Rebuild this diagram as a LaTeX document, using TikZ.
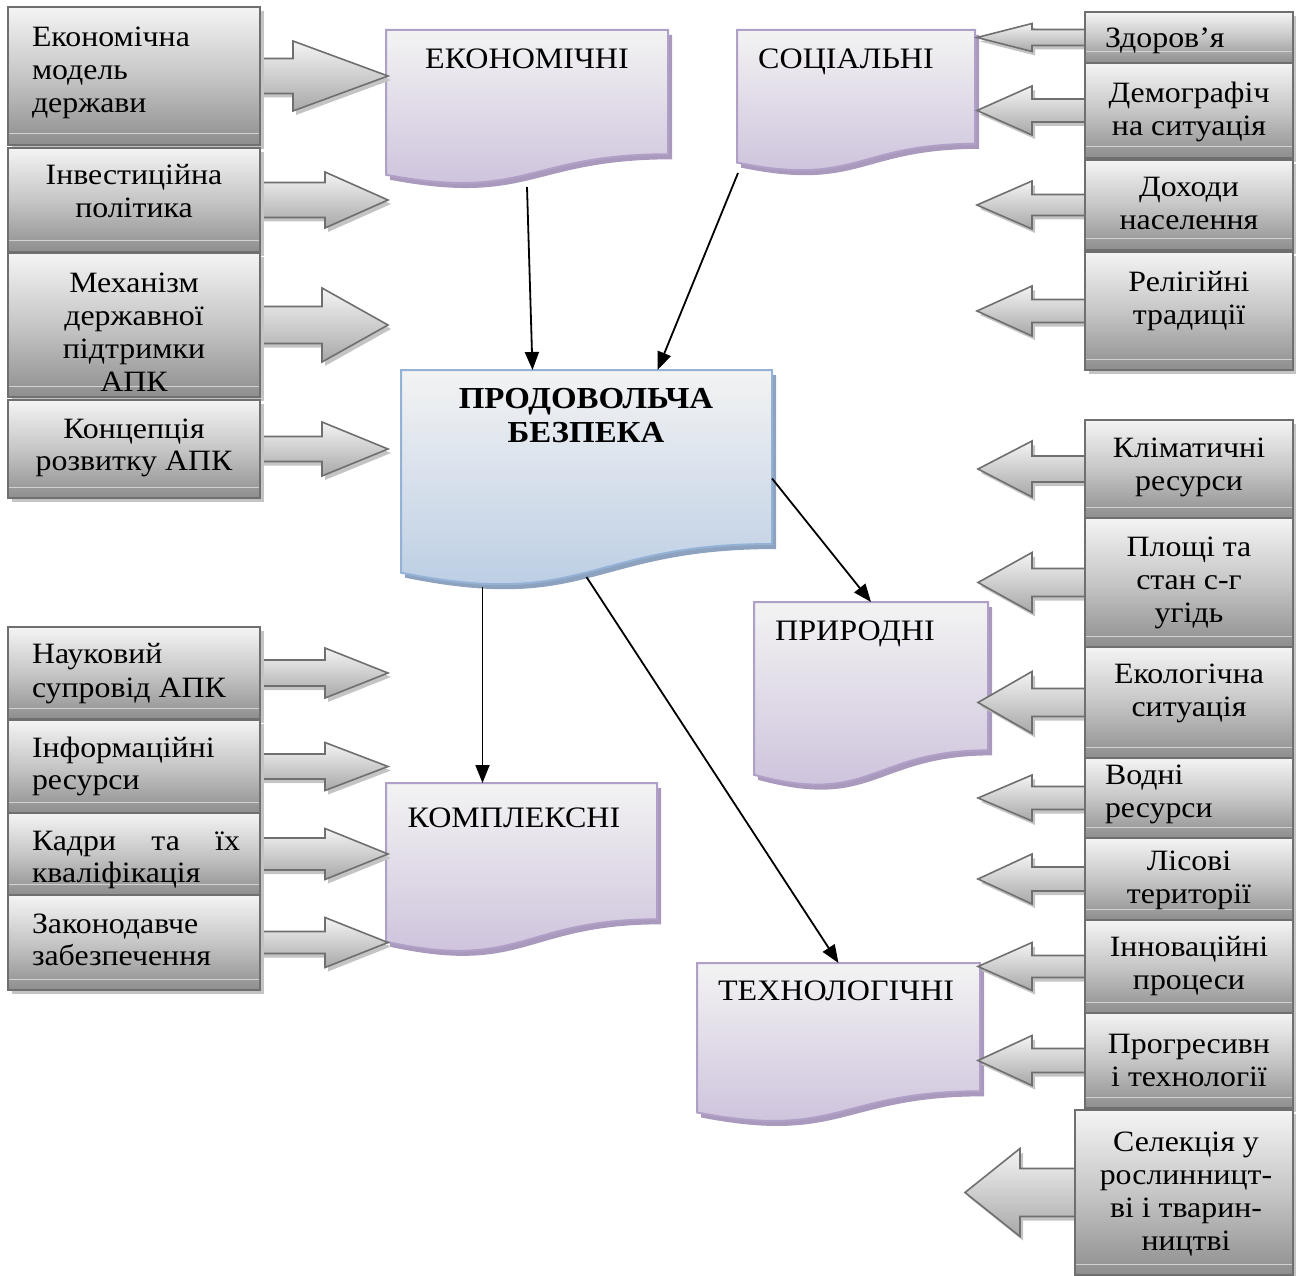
\documentclass[tikz,border=0pt]{standalone}
\usepackage{fontspec}
\setmainfont{Liberation Serif}[FakeStretch=1.08]
\usetikzlibrary{calc,arrows.meta,shadows}

\definecolor{gbord}{HTML}{6F6F6F}
\definecolor{gtop}{HTML}{F4F4F4}
\definecolor{gmid}{HTML}{C6C6C6}
\definecolor{gbot}{HTML}{8E8E8E}
\definecolor{gshad}{HTML}{C4C4C4}
\definecolor{gstripe}{HTML}{D2D2D2}
\definecolor{atop}{HTML}{F4F4F4}
\definecolor{abot}{HTML}{A8A8A8}
\definecolor{ptop}{HTML}{F3F3F3}
\definecolor{pbot}{HTML}{CABEDA}
\definecolor{pbord}{HTML}{B09FC6}
\definecolor{pshad}{HTML}{A999BC}
\definecolor{btop}{HTML}{F3F3F3}
\definecolor{bbot}{HTML}{B6CAE3}
\definecolor{bbord}{HTML}{94B2D6}
\definecolor{bshad}{HTML}{8DA2BE}

\newcommand{\docpath}[1]{(#1.north west) -- (#1.north east) -- ($(#1.north east)!0.802!(#1.south east)$) .. controls ($(#1.north)!0.802!(#1.south)$) and ($(#1.north)!1.1075!(#1.south)$) .. ($(#1.north west)!0.934!(#1.south west)$) -- cycle}
% right-pointing block arrow: box, tip x, shaft half, head half, head length
\newcommand{\arrR}[5]{let \p1=(#1.east) in (\x1-30pt,\y1+#3pt) -- (#2pt-#5pt,\y1+#3pt) -- (#2pt-#5pt,\y1+#4pt) -- (#2pt,\y1) -- (#2pt-#5pt,\y1-#4pt) -- (#2pt-#5pt,\y1-#3pt) -- (\x1-30pt,\y1-#3pt) -- cycle}
% left-pointing block arrow
\newcommand{\arrL}[5]{let \p1=(#1.west) in (\x1+30pt,\y1+#3pt) -- (#2pt+#5pt,\y1+#3pt) -- (#2pt+#5pt,\y1+#4pt) -- (#2pt,\y1) -- (#2pt+#5pt,\y1-#4pt) -- (#2pt+#5pt,\y1-#3pt) -- (\x1+30pt,\y1-#3pt) -- cycle}

\begin{document}
\begin{tikzpicture}[x=1pt,y=-1pt,
  frame/.style={rectangle, anchor=north west, inner sep=0pt, outer sep=0pt, draw=none},
  gbox/.style={rectangle, anchor=north west, inner sep=0pt, outer sep=0pt,
    draw=gbord, line width=2pt, top color=gtop, bottom color=gbot, middle color=gmid,
    drop shadow={shadow xshift=4pt, shadow yshift=-4pt, fill=gshad, opacity=1}},
  stripe/.style={draw=gstripe, line width=1pt},
  garrow/.style={draw=gbord, line width=1.6pt, top color=atop, bottom color=abot,
    drop shadow={shadow xshift=3pt, shadow yshift=-4pt, fill=gshad, opacity=1}},
  pdoc/.style={draw=pbord, line width=2pt, top color=ptop, bottom color=pbot,
    drop shadow={shadow xshift=4pt, shadow yshift=-5pt, fill=pshad, opacity=1}},
  bdoc/.style={draw=bbord, line width=2pt, top color=btop, bottom color=bbot,
    drop shadow={shadow xshift=4pt, shadow yshift=-5pt, fill=bshad, opacity=1}},
  conn/.style={line width=1.8pt, -{Triangle[length=18pt,width=14pt]}},
  txt/.style={inner sep=0pt, outer sep=0pt, font=\fontsize{29.5}{33}\selectfont},
  tl/.style={txt, align=left, anchor=base west},
  tc/.style={txt, align=center, anchor=base},
  dtxt/.style={inner sep=0pt, outer sep=0pt, anchor=base, align=center, font=\fontsize{29.7}{34}\selectfont},
]
\useasboundingbox (0,0) rectangle (1296,1276);

% ---------- document shapes ----------
\node[frame, minimum width=282, minimum height=155] (eco) at (386,30) {};
\node[frame, minimum width=238, minimum height=142] (soc) at (737,30) {};
\node[frame, minimum width=371, minimum height=217] (food) at (401,370) {};
\node[frame, minimum width=234, minimum height=185] (nat) at (754,602) {};
\node[frame, minimum width=271, minimum height=170] (comp) at (386,783) {};
\node[frame, minimum width=283, minimum height=160] (tech) at (697,963) {};

\draw[pdoc] \docpath{eco};
\draw[pdoc] \docpath{soc};
\draw[bdoc] \docpath{food};
\draw[pdoc] \docpath{nat};
\draw[pdoc] \docpath{comp};
\draw[pdoc] \docpath{tech};

\node[dtxt] (ecot) at (527,69) {ЕКОНОМІЧНІ};
\node[dtxt] (soct) at (846,69) {СОЦІАЛЬНІ};
\node[dtxt, font=\fontsize{30.5}{34}\selectfont\bfseries] (foodt) at (586,442) {ПРОДОВОЛЬЧА\\БЕЗПЕКА};
\node[dtxt] (natt) at (855,640) {ПРИРОДНІ};
\node[dtxt] (compt) at (514,827) {КОМПЛЕКСНІ};
\node[dtxt] (techt) at (836,1000) {ТЕХНОЛОГІЧНІ};

% ---------- connectors ----------
\draw[conn] ([yshift=-2pt]eco.south) -- ([xshift=-54pt]food.north);
\draw[conn] ([xshift=1pt,yshift=-1pt]soc.south west) -- ([xshift=71pt]food.north);
\draw[conn] (food.east) -- (nat.north);
\draw[conn] ([xshift=-104pt]food.south) -- ([xshift=-39pt]comp.north);
\draw[conn] ([yshift=10pt]food.south) -- (tech.north);

% ---------- gray boxes (frames first for arrows) ----------
\node[frame, minimum width=252, minimum height=138] (b1) at (8,7) {};
\node[frame, minimum width=252, minimum height=104] (b2) at (8,148) {};
\node[frame, minimum width=252, minimum height=144] (b3) at (8,253) {};
\node[frame, minimum width=252, minimum height=98]  (b4) at (8,400) {};
\node[frame, minimum width=252, minimum height=92]  (b5) at (8,627) {};
\node[frame, minimum width=252, minimum height=93]  (b6) at (8,720) {};
\node[frame, minimum width=252, minimum height=82]  (b7) at (8,813) {};
\node[frame, minimum width=252, minimum height=95]  (b8) at (8,895) {};

\node[frame, minimum width=208, minimum height=51]  (r1) at (1085,12) {};
\node[frame, minimum width=208, minimum height=95]  (r2) at (1085,63) {};
\node[frame, minimum width=208, minimum height=90]  (r3) at (1085,160) {};
\node[frame, minimum width=208, minimum height=118] (r4) at (1085,252) {};
\node[frame, minimum width=208, minimum height=98]  (r5) at (1085,420) {};
\node[frame, minimum width=208, minimum height=129] (r6) at (1085,518) {};
\node[frame, minimum width=208, minimum height=111] (r7) at (1085,647) {};
\node[frame, minimum width=208, minimum height=80]  (r8) at (1085,758) {};
\node[frame, minimum width=208, minimum height=82]  (r9) at (1085,838) {};
\node[frame, minimum width=208, minimum height=93]  (r10) at (1085,920) {};
\node[frame, minimum width=208, minimum height=95]  (r11) at (1085,1013) {};
\node[frame, minimum width=218, minimum height=165] (r12) at (1075,1110) {};

% ---------- block arrows ----------
\draw[garrow] \arrR{b1}{388}{17.5}{35}{95};
\draw[garrow] \arrR{b2}{388}{17.5}{28}{63};
\draw[garrow] \arrR{b3}{388}{18.5}{37}{66};
\draw[garrow] \arrR{b4}{388}{12.5}{27}{66};
\draw[garrow] \arrR{b5}{388}{13}{25}{63};
\draw[garrow] \arrR{b6}{388}{12.5}{24}{63};
\draw[garrow] \arrR{b7}{388}{16}{25.5}{63};
\draw[garrow] \arrR{b8}{388}{11}{25}{63};

\draw[garrow] \arrL{r1}{977}{8}{14}{55};
\draw[garrow] \arrL{r2}{977}{11.5}{24.5}{55};
\draw[garrow] \arrL{r3}{977}{10.5}{24}{55};
\draw[garrow] \arrL{r4}{977}{11.5}{25}{55};
\draw[garrow] \arrL{r5}{978}{13}{28}{54};
\draw[garrow] \arrL{r6}{978}{14}{30}{54};
\draw[garrow] \arrL{r7}{978}{14}{31}{54};
\draw[garrow] \arrL{r8}{978}{11.5}{23}{54};
\draw[garrow] \arrL{r9}{978}{12}{25}{54};
\draw[garrow] \arrL{r10}{978}{11}{24}{54};
\draw[garrow] \arrL{r11}{978}{12}{25}{54};
\draw[garrow] \arrL{r12}{965}{24}{44}{55};

% ---------- gray boxes drawn ----------
\foreach \b in {b1,b2,b3,b4,b5,b6,b7,b8,r1,r2,r3,r4,r5,r6,r7,r8,r9,r10,r11,r12}{
  \path[gbox] (\b.north west) rectangle (\b.south east);
  \draw[stripe] ([xshift=1pt,yshift=11pt]\b.south west) -- ([xshift=-1pt,yshift=11pt]\b.south east);
}

% ---------- texts (anchor = baseline of last line) ----------
\node[tl] (b1t) at (32,113) {Економічна\\модель\\держави};
\node[tc] (b2t) at (134,218) {Інвестиційна\\політика};
\node[tc] (b3t) at (134,391) {Механізм\\державної\\підтримки\\АПК};
\node[tc, font=\fontsize{29.5}{32}\selectfont] (b4t) at (134,470) {Концепція\\розвитку АПК};
\node[tl, font=\fontsize{29.5}{34}\selectfont] (b5t) at (32,697) {Науковий\\супровід АПК};
\node[tl, font=\fontsize{29.5}{32}\selectfont] (b6t) at (32,789) {Інформаційні\\ресурси};
\node[tl, font=\fontsize{29.5}{32}\selectfont] (b7t) at (32,882) {\hbox to 208pt{Кадри\hfill та\hfill їх}\\кваліфікація};
\node[tl, font=\fontsize{29.5}{32}\selectfont] (b8t) at (32,965) {Законодавче\\забезпечення};

\node[tl] (r1t) at (1105,48) {Здоров’я};
\node[tc] (r2t) at (1189,136) {Демографіч\\на ситуація};
\node[tc] (r3t) at (1189,230) {Доходи\\населення};
\node[tc] (r4t) at (1189,324) {Релігійні\\традиції};
\node[tc] (r5t) at (1189,490) {Кліматичні\\ресурси};
\node[tc] (r6t) at (1189,622) {Площі та\\стан с-г\\угідь};
\node[tc] (r7t) at (1189,716) {Екологічна\\ситуація};
\node[tl] (r8t) at (1105,817) {Водні\\ресурси};
\node[tc] (r9t) at (1189,903) {Лісові\\території};
\node[tc] (r10t) at (1189,989) {Інноваційні\\процеси};
\node[tc] (r11t) at (1189,1086) {Прогресивн\\і технології};
\node[tc] (r12t) at (1186,1250) {Селекція у\\рослинницт-\\ві і тварин-\\ництві};
\end{tikzpicture}
\end{document}
